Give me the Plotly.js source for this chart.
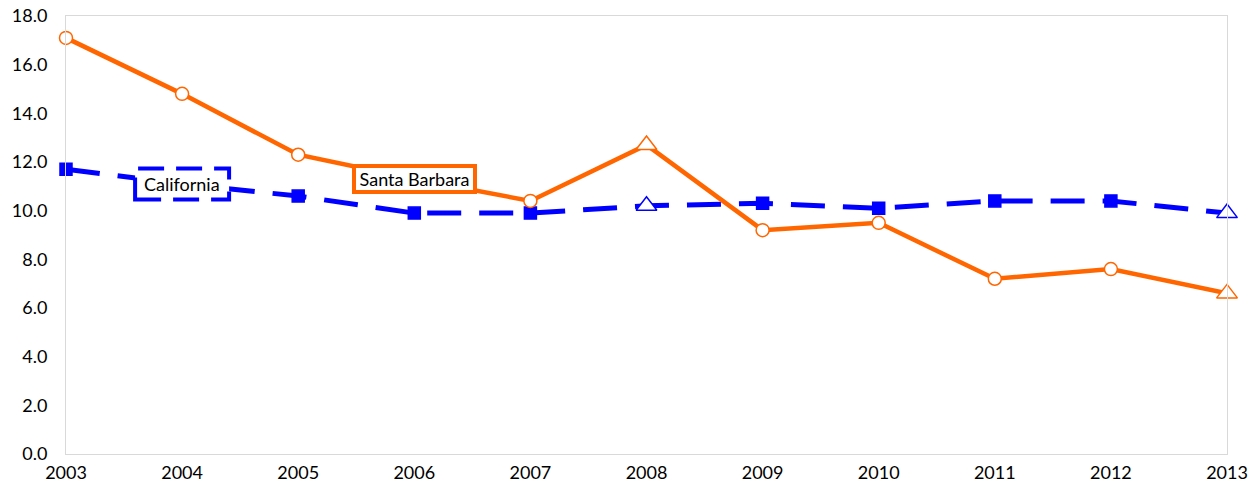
<!DOCTYPE html>
<html>
<head>
<meta charset="utf-8">
<script src="https://cdn.plot.ly/plotly-3.0.1.min.js"></script>
<style>body{margin:0;padding:0;background:#fff}#chart{width:1256px;height:492px}</style>
</head>
<body>
<div id="chart"></div>
<script>
var years = [2003, 2004, 2005, 2006, 2007, 2008, 2009, 2010, 2011, 2012, 2013];
var santaBarbara = [17.1, 14.8, 12.3, 11.3, 10.4, 12.7, 9.2, 9.5, 7.2, 7.6, 6.6];
var california = [11.7, 11.1, 10.6, 9.9, 9.9, 10.2, 10.3, 10.1, 10.4, 10.4, 9.9];
var yTicks = [0, 2, 4, 6, 8, 10, 12, 14, 16, 18];
var seriesNames = ["Santa Barbara", "California"];

var orange = "#FF6600", blue = "#0000FF";
function isTri(y){ return y === 2008 || y === 2013; }

var sbTrace = {
  x: years, y: santaBarbara, type: "scatter", mode: "lines+markers", name: seriesNames[0],
  cliponaxis: false,
  line: {color: orange, width: 4.5},
  marker: {
    symbol: years.map(function(y){ return isTri(y) ? "triangle-up" : "circle"; }),
    size: years.map(function(y){ return isTri(y) ? 18 : 13; }),
    color: "#ffffff", opacity: 1,
    line: {color: orange, width: 1.5}
  }
};
var caTrace = {
  x: years, y: california, type: "scatter", mode: "lines+markers", name: seriesNames[1],
  cliponaxis: false,
  line: {color: blue, width: 5, dash: "34px,18px"},
  marker: {
    symbol: years.map(function(y){ return isTri(y) ? "triangle-up" : "square"; }),
    size: years.map(function(y){ return isTri(y) ? 18 : 12; }),
    color: years.map(function(y){ return isTri(y) ? "#ffffff" : blue; }),
    opacity: 1,
    line: {color: blue, width: 1.5}
  }
};

var font = "Lato, 'Open Sans', sans-serif";
var layout = {
  width: 1256, height: 492,
  margin: {l: 66, r: 29, t: 16, b: 38},
  paper_bgcolor: "#fff", plot_bgcolor: "#fff",
  showlegend: false,
  font: {family: font, size: 18, color: "#000"},
  xaxis: {
    range: [2003, 2013], tickvals: years, ticktext: years.map(String),
    showgrid: false, zeroline: false, showline: true, mirror: true,
    linecolor: "#d9d9d9", linewidth: 1, ticks: "", ticklabelstandoff: 2,
    tickfont: {family: font, size: 18, color: "#000"}
  },
  yaxis: {
    range: [0, 18], tickvals: yTicks, tickformat: ".1f",
    showgrid: false, zeroline: false, showline: true, mirror: true,
    linecolor: "#d9d9d9", linewidth: 1, ticks: "", ticklabelstandoff: 14,
    tickfont: {family: font, size: 18, color: "#000"}
  },
  shapes: [{
    type: "rect", xref: "x", yref: "y", layer: "above",
    xsizemode: "pixel", ysizemode: "pixel",
    xanchor: years[1], yanchor: california[1],
    x0: -47, x1: 47, y0: -15.5, y1: 15.5,
    fillcolor: "#ffffff",
    line: {color: blue, width: 4, dash: "26px,12px"}
  }],
  annotations: [
    {x: years[1], y: california[1], xref: "x", yref: "y", text: "California", showarrow: false,
     font: {family: font, size: 18, color: "#000"}},
    {x: years[3], y: santaBarbara[3], xref: "x", yref: "y", text: "Santa Barbara", showarrow: false,
     width: 111, height: 16,
     bgcolor: "#ffffff", bordercolor: orange, borderwidth: 4, borderpad: 3,
     font: {family: font, size: 18, color: "#000"}}
  ]
};

Plotly.newPlot("chart", [caTrace, sbTrace], layout, {displayModeBar: false, staticPlot: true});
</script>
</body>
</html>
